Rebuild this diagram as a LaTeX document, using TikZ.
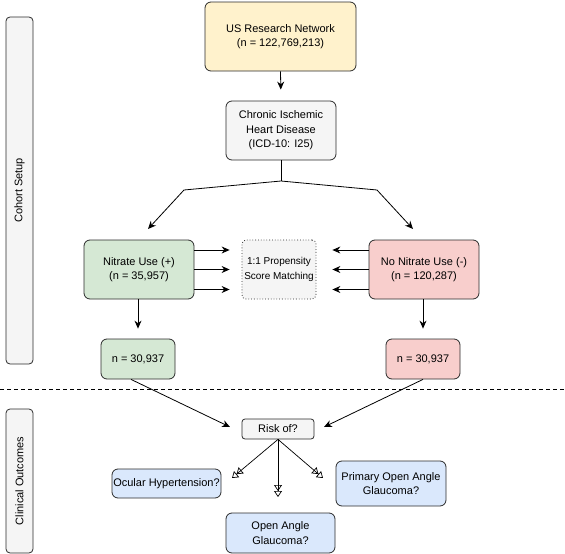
\documentclass[tikz,border=0pt]{standalone}
\usepackage{fontspec}
\setmainfont{Liberation Sans}
\usetikzlibrary{arrows.meta,calc}
\definecolor{cyel}{HTML}{FFF2CC}
\definecolor{cgrey}{HTML}{F5F5F5}
\definecolor{cgreen}{HTML}{D5E8D4}
\definecolor{cred}{HTML}{F8CECC}
\definecolor{cblue}{HTML}{DAE8FC}
\definecolor{cline}{HTML}{2B2B2B}
\begin{document}
\begin{tikzpicture}[x=1pt,y=-1pt,
  box/.style={draw=cline, line width=0.8pt, rounded corners=6pt, align=center,
    font=\fontsize{11}{14.5}\selectfont, inner sep=0pt},
  arr/.style={draw=black, line width=0.8pt, -{Stealth[length=8pt,width=7pt]}},
  oarr/.style={draw=black, line width=0.7pt,
    -{Triangle[open,length=6pt,width=8pt]Triangle[open,length=6pt,width=8pt]}},
  side/.style={draw=cline, line width=0.8pt, fill=cgrey, rounded corners=4pt},
  sidetxt/.style={rotate=90, font=\fontsize{11}{13}\selectfont}]
\useasboundingbox (0,0) rectangle (565,554);

% sidebars
\node[side, minimum width=27pt, minimum height=347pt] (s1) at (19.5,190.5) {};
\node[sidetxt] (s1t) at (s1.center) {Cohort Setup};
\node[side, minimum width=27pt, minimum height=144pt] (s2) at (19.5,481) {};
\node[sidetxt] (s2t) at (s2.center) {Clinical Outcomes};

% nodes
\node[box, fill=cyel, minimum width=151pt, minimum height=69pt] (us) at (280.5,36.5)
  {US Research Network\\(n = 122,769,213)};
\node[box, fill=cgrey, minimum width=110pt, minimum height=59pt] (chd) at (281,130.5)
  {Chronic Ischemic\\Heart Disease\\(ICD-10: I25)};
\node[box, fill=cgreen, minimum width=110pt, minimum height=59pt] (nit) at (139,269.5)
  {Nitrate Use (+)\\(n = 35,957)};
\node[box, fill=cgrey, dotted, rounded corners=4pt, minimum width=74pt, minimum height=59pt,
  font=\fontsize{10}{14.5}\selectfont] (psm) at (279,269.5)
  {1:1 Propensity\\Score Matching};
\node[box, fill=cred, minimum width=110pt, minimum height=59pt] (non) at (424,269.5)
  {No Nitrate Use (-)\\(n = 120,287)};
\node[box, fill=cgreen, minimum width=74pt, minimum height=40pt] (nl) at (138,359)
  {n = 30,937};
\node[box, fill=cred, minimum width=74pt, minimum height=40pt] (nr) at (423,359)
  {n = 30,937};
\node[box, fill=cgrey, rounded corners=3pt, minimum width=72pt, minimum height=20pt] (risk) at (278,429)
  {Risk of?};
\node[box, fill=cblue, minimum width=109pt, minimum height=29pt] (oh) at (166.5,483.5)
  {Ocular Hypertension?};
\node[box, fill=cblue, minimum width=110pt, minimum height=45pt] (poag) at (391,483.5)
  {Primary Open Angle\\Glaucoma?};
\node[box, fill=cblue, minimum width=109pt, minimum height=40pt] (oag) at (280.5,533)
  {Open Angle\\Glaucoma?};

% helper coordinates
\coordinate (split) at (281,181);
\coordinate (bl) at (184,190);
\coordinate (br) at (377,190);
\coordinate (tl) at (148,229);
\coordinate (tr) at (413,229);
\coordinate (rl) at (230,427);
\coordinate (rr) at (324,427);
\coordinate (o1) at (232,478);
\coordinate (o2) at (278,497);
\coordinate (o3) at (323,478);
\coordinate (dl) at (0,389);
\coordinate (dr) at (565,389);

% connectors
\draw[arr, shorten >=11pt] (us.south) -- (chd.north);
\draw[line width=0.8pt] (chd.south) -- (split);
\draw[arr] (split) -- (bl) -- (tl);
\draw[arr] (split) -- (br) -- (tr);
\foreach \dy in {-19.5,0,20} {
  \draw[arr, shorten >=12pt] ($(nit.east)+(0,\dy)$) -- ($(psm.west)+(0,\dy)$);
  \draw[arr, shorten >=16pt] ($(non.west)+(0,\dy)$) -- ($(psm.east)+(0,\dy)$);
}
\draw[arr, shorten >=10pt] (nl.north |- nit.south) -- (nl.north);
\draw[arr, shorten >=10pt] (nr.north |- non.south) -- (nr.north);
\draw[dashed, line width=0.8pt, dash pattern=on 4pt off 3pt] (dl) -- (dr);
\draw[arr] ($(nl.south)+(-7,0)$) -- (rl);
\draw[arr] (nr.south) -- (rr);
\draw[oarr] (risk.south) -- (o1);
\draw[oarr] (risk.south) -- (o2);
\draw[oarr] (risk.south) -- (o3);
\end{tikzpicture}
\end{document}
